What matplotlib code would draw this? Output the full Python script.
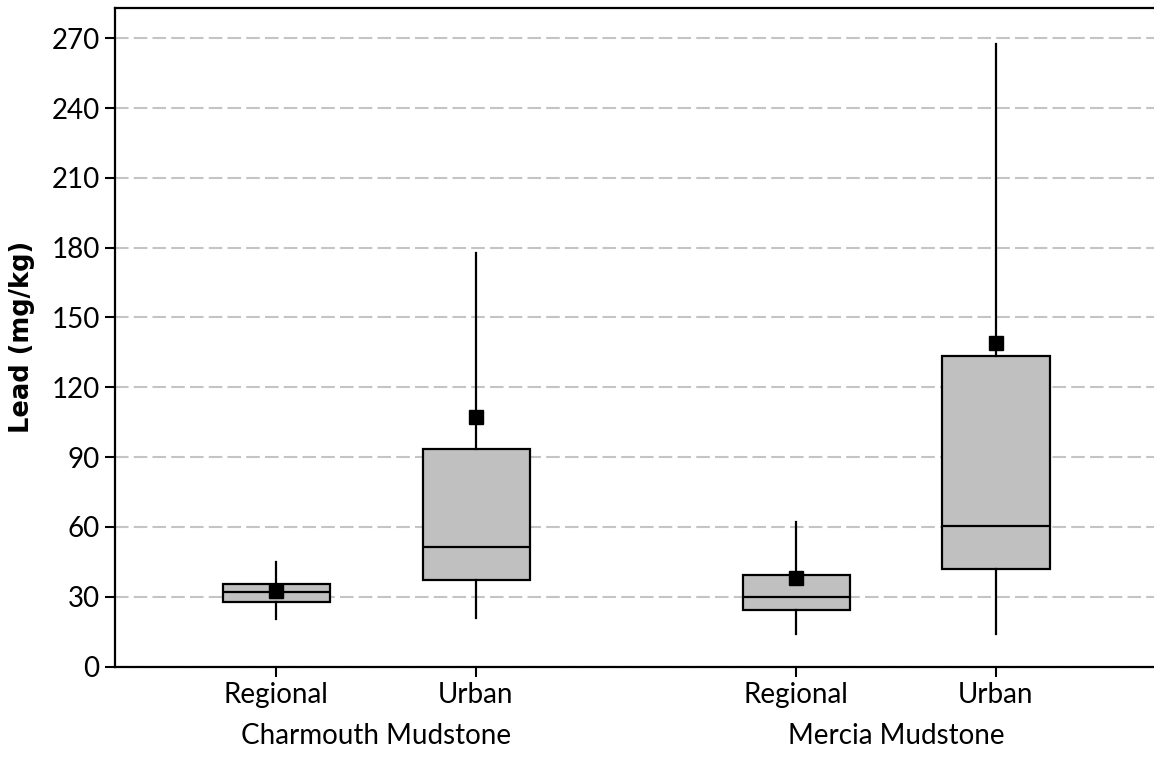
import matplotlib
matplotlib.use("Agg")
import matplotlib.pyplot as plt

plt.rcParams['font.family'] = ['Lato', 'DejaVu Sans']

# Lead concentrations (mg/kg) by parent material and setting
groups = ["Charmouth Mudstone", "Mercia Mudstone"]
settings = ["Regional", "Urban", "Regional", "Urban"]
positions = [0.0, 1.0, 2.6, 3.6]
whisker_low = [20.3, 21.0, 13.8, 14.0]
q1 = [27.9, 37.2, 24.2, 42.0]
median = [31.9, 51.5, 30.0, 60.5]
q3 = [35.6, 93.4, 39.2, 133.5]
whisker_high = [45.1, 177.8, 62.0, 267.6]
mean = [32.5, 107.4, 38.2, 139.2]
yticks = [0, 30, 60, 90, 120, 150, 180, 210, 240, 270]

W, H = 1154, 758
fig = plt.figure(figsize=(W / 100, H / 100), dpi=100)
left_px, top_px, bottom_px, right_px = 115, 8, 666.5, 1170
ax = fig.add_axes([left_px / W, 1 - bottom_px / H,
                   (right_px - left_px) / W, (bottom_px - top_px) / H])

stats = []
for i in range(len(positions)):
    stats.append(dict(whislo=whisker_low[i], q1=q1[i], med=median[i],
                      q3=q3[i], whishi=whisker_high[i], mean=mean[i],
                      fliers=[]))

ax.bxp(stats, positions=positions, widths=0.535, patch_artist=True,
       showcaps=False, showmeans=True, showfliers=False,
       boxprops=dict(facecolor="#c0c0c0", edgecolor="black", linewidth=1.6),
       medianprops=dict(color="black", linewidth=1.6),
       whiskerprops=dict(color="black", linewidth=1.6),
       meanprops=dict(marker="s", markerfacecolor="black",
                      markeredgecolor="black", markersize=10.5),
       manage_ticks=False, zorder=3)

ax.set_ylim(0, 283)
ax.set_xlim(-0.805, (right_px - 276) / 200)
ax.set_yticks(yticks)
ax.set_yticklabels([str(v) for v in yticks])
ax.set_xticks(positions)
ax.set_xticklabels(settings)

ax.yaxis.grid(True, color="#c4c4c4", linewidth=1.5, linestyle=(0, (6.5, 2.5)))
ax.set_axisbelow(True)

for side in ["left", "bottom", "top"]:
    ax.spines[side].set_linewidth(1.6)
    ax.spines[side].set_color("black")
ax.spines["right"].set_visible(False)

ax.tick_params(axis="both", labelsize=20, length=7, width=1.5,
               color="black", direction="out", pad=4)

ax.set_ylabel("Lead (mg/kg)", fontsize=18.5, fontweight="bold",
              family=["DejaVu Sans"], labelpad=12)

# group labels below the setting labels
for g, (a, b) in zip(groups, [(0, 1), (2, 3)]):
    xc = (positions[a] + positions[b]) / 2
    ax.annotate(g, xy=(xc, 0), xycoords=("data", "axes fraction"),
                xytext=(0, -41), textcoords="offset points",
                ha="center", va="top", fontsize=20)

fig.savefig("out.png", dpi=100)
